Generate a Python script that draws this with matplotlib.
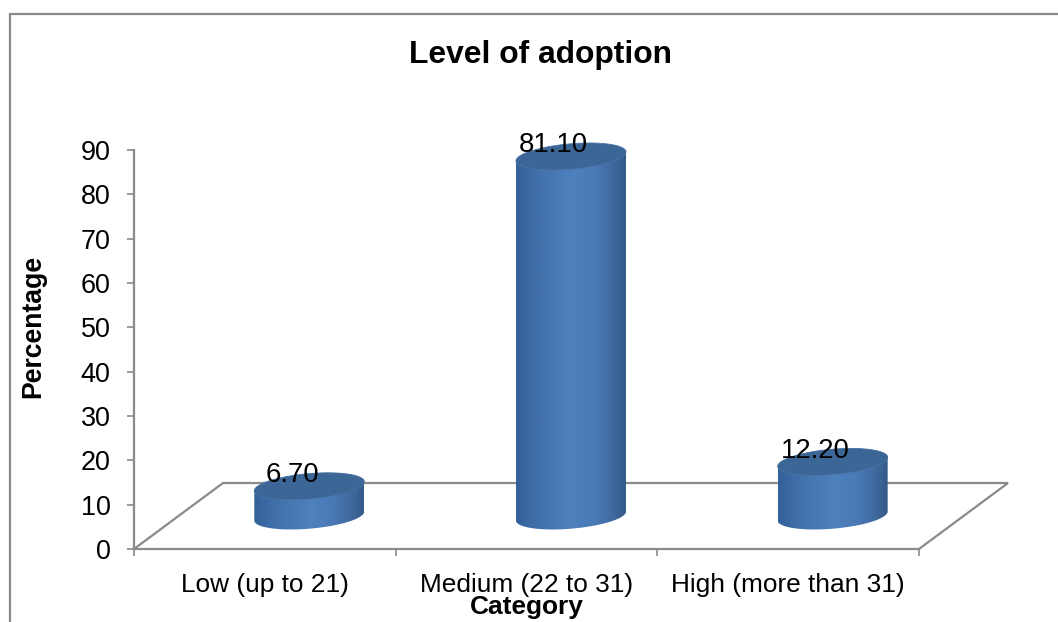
import numpy as np
import matplotlib
matplotlib.use("Agg")
import matplotlib.pyplot as plt
from matplotlib.colors import LinearSegmentedColormap
from matplotlib.lines import Line2D
from matplotlib.patches import Polygon

title = "Level of adoption"
categories = ["Low (up to 21)", "Medium (22 to 31)", "High (more than 31)"]
values = [6.70, 81.10, 12.20]
value_labels = ["6.70", "81.10", "12.20"]
y_ticks = [0, 10, 20, 30, 40, 50, 60, 70, 80, 90]
x_title = "Category"
y_title = "Percentage"

W, H = 1058, 622
GREY = "#8a8a8a"
plt.rcParams["font.family"] = ["Liberation Sans", "DejaVu Sans"]


def px(size):
    return size * 0.72


fig = plt.figure(figsize=(W / 100, H / 100), dpi=100, facecolor="white")
L, R, T, B = 134, 919, 150, 549
ax = fig.add_axes([L / W, 1 - B / H, (R - L) / W, (B - T) / H])
ax.set_xlim(-0.5, 2.5)
ax.set_ylim(0, 90)

xu = 3 / (R - L)   # category units per pixel
yu = 90 / (B - T)  # value units per pixel

floor_dx, floor_dy = 89 * xu, 66 * yu
half_w = 55 * xu
ell_b, ell_k = 12.7 * yu, 4.5 * yu

cmap = LinearSegmentedColormap.from_list("cyl", [
    (0.00, "#32609a"), (0.14, "#3e6ca6"), (0.32, "#4777b3"), (0.52, "#4f81bf"),
    (0.72, "#4a7ab6"), (0.88, "#40699f"), (1.00, "#345a87")])

# floor
ax.plot([-0.5, -0.5 + floor_dx, 2.5 + floor_dx, 2.5],
        [0, floor_dy, floor_dy, 0], color=GREY, lw=1.6, clip_on=False,
        solid_joinstyle="miter", zorder=1)

t = np.linspace(0, 2 * np.pi, 240)
for i, v in enumerate(values):
    cx = i + floor_dx / 2
    y0 = floor_dy / 2
    x_e = cx + half_w * np.cos(t)
    bottom_y = y0 + ell_b * np.sin(t) + ell_k * np.cos(t)
    top_y = bottom_y + v
    # body outline: lower half of the bottom ellipse + the top ellipse edge
    tt = np.linspace(0, np.pi, 120)
    xs = np.r_[cx + half_w * np.cos(tt), cx - half_w * np.cos(tt)]
    ys = np.r_[y0 + v + ell_k * np.cos(tt) + ell_b * np.sin(tt),
               y0 - ell_k * np.cos(tt) - ell_b * np.sin(tt)]
    body = Polygon(np.c_[xs, ys], closed=True, fc="none", ec="none",
                   transform=ax.transData)
    ax.add_patch(body)
    im = ax.imshow(np.linspace(0, 1, 256)[None, :], cmap=cmap, aspect="auto",
                   extent=[cx - half_w, cx + half_w, y0 - 4 * ell_b, y0 + v + 4 * ell_b],
                   zorder=3, interpolation="bilinear", clip_on=True)
    im.set_clip_path(body)
    ax.fill(x_e, top_y, fc="#3c6695", ec="#4a74a6", lw=0.6, zorder=4, clip_on=False)
    ax.annotate(value_labels[i], xy=(cx, y0 + v), xytext=(-12.5, 8.2),
                textcoords="offset points", ha="center", va="center",
                fontsize=px(27.5), color="black", zorder=6, annotation_clip=False)

ax.set_xlim(-0.5, 2.5)
ax.set_ylim(0, 90)

for s in ("top", "right"):
    ax.spines[s].set_visible(False)
for s in ("left", "bottom"):
    ax.spines[s].set_color(GREY)
    ax.spines[s].set_linewidth(1.6)
    ax.spines[s].set_zorder(2)

ax.set_yticks(y_ticks)
ax.tick_params(axis="y", length=5, width=1.2, color=GREY, pad=12,
               labelsize=px(27), labelcolor="black")
ax.set_xticks([-0.5, 0.5, 1.5, 2.5])
ax.set_xticklabels([])
ax.set_xticks([0, 1, 2], minor=True)
ax.set_xticklabels(categories, minor=True, fontsize=px(26.2), color="black")
ax.tick_params(axis="x", which="major", length=5, width=1.2, color=GREY)
ax.tick_params(axis="x", which="minor", length=0, pad=17)

fig.text(540.5 / W, 1 - 55.5 / H, title, ha="center", va="center",
         fontsize=px(31.8), fontweight="bold")
fig.text(527 / W, 1 - 607 / H, x_title, ha="center", va="center",
         fontsize=px(26.2), fontweight="bold")
fig.text(33 / W, 1 - 326 / H, y_title, ha="center", va="center", rotation=90,
         fontsize=px(26.6), fontweight="bold")

# outer chart border
fig.add_artist(Line2D([9.5 / W, 9.5 / W, 1], [0, 1 - 14 / H, 1 - 14 / H],
                      color=GREY, lw=1.6, solid_joinstyle="miter"))

fig.savefig("out.png", dpi=100, facecolor="white")
